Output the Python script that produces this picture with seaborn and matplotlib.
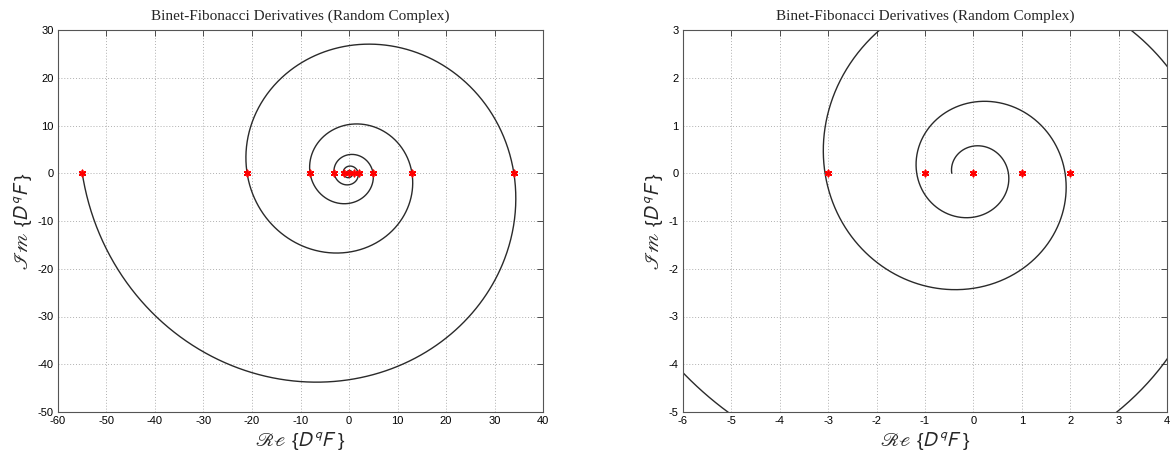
import numpy as np
import pandas as pd
import matplotlib
matplotlib.use("Agg")
import matplotlib.pyplot as plt
import seaborn as sns

# ---- data ----
fib_re = [0, 1, -1, 2, -3, 5, -8, 13, -21, 34, -55]
fib_im = [0, 0, 0, 0, 0, 0, 0, 0, 0, 0, 0]
# spiral: Binet-type curve  z(t) = -phi^t * exp(-i*pi*t) / sqrt(5),  t in [0, 10]
phi = (1 + 5 ** 0.5) / 2
t_start, t_end, n_samples = 0.0, 10.0, 4000
panel_xlim = [(-60, 40), (-6, 4)]
panel_ylim = [(-50, 30), (-5, 3)]
panel_xticks = [list(range(-60, 41, 10)), list(range(-6, 5, 1))]
panel_yticks = [list(range(-50, 31, 10)), list(range(-5, 4, 1))]
title = "Binet-Fibonacci Derivatives (Random Complex)"

t = np.linspace(t_start, t_end, n_samples)
z = -(phi ** t) * np.exp(-1j * np.pi * t) / np.sqrt(5)
curve = pd.DataFrame({"re": z.real, "im": z.imag, "order": np.arange(len(t))})
pts = pd.DataFrame({"re": fib_re, "im": fib_im})

sns.set_style("white")
plt.rcParams["font.family"] = ["Liberation Sans", "DejaVu Sans"]
plt.rcParams["mathtext.fontset"] = "stixsans"
plt.rcParams["axes.unicode_minus"] = False

fig = plt.figure(figsize=(11.72, 4.59), dpi=100)
ax1 = fig.add_axes([58 / 1172, 1 - 412 / 459, 485 / 1172, 382 / 459])
ax2 = fig.add_axes([683 / 1172, 1 - 412 / 459, 484 / 1172, 382 / 459])

asterisk = (6, 2, 0)
for ax, xl, yl, xt, yt in zip([ax1, ax2], panel_xlim, panel_ylim, panel_xticks, panel_yticks):
    sns.lineplot(data=curve, x="re", y="im", sort=False, estimator=None,
                 color="#2a2a2a", linewidth=1.0, ax=ax)
    sns.scatterplot(data=pts, x="re", y="im", marker=asterisk, color="red",
                    s=20, edgecolor="red", linewidth=1.2, ax=ax, zorder=5)
    ax.set_xlim(*xl)
    ax.set_ylim(*yl)
    ax.set_xticks(xt)
    ax.set_yticks(yt)
    ax.grid(True, linestyle=(0, (1, 2)), color="#b0b0b0", linewidth=0.7)
    ax.tick_params(direction="in", length=4, width=0.6, labelsize=8,
                   top=True, right=True, colors="#333333", labelcolor="black", pad=3)
    for sp in ax.spines.values():
        sp.set_visible(True)
        sp.set_color("#555555")
        sp.set_linewidth(0.8)
    ax.set_title(title, family="Liberation Serif", fontsize=11, pad=7)
    ax.set_xlabel(r"$\mathscr{Re}$ {$D^{q}F$ }", fontsize=14, labelpad=3)
    ax.set_ylabel(r"$\mathscr{Im}$ {$D^{q}F$ }", fontsize=14, labelpad=2)

fig.savefig("out.png", dpi=100, facecolor="white")
